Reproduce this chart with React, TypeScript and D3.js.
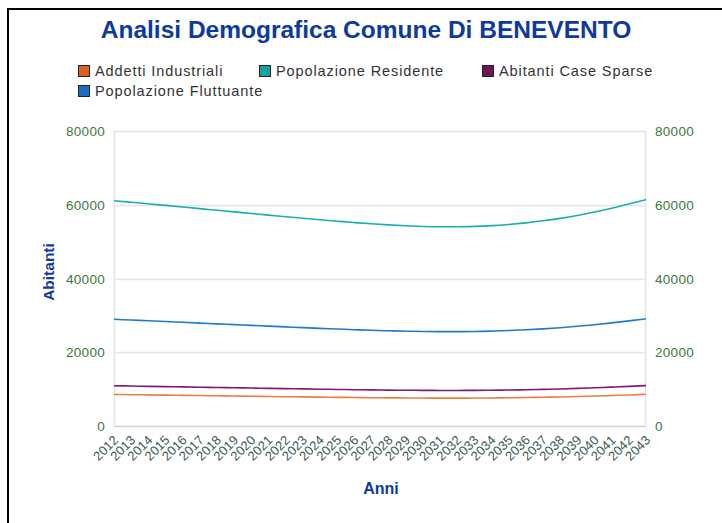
import React from "react";
import * as d3 from "d3";

const years: string[] = [
  "2012","2013","2014","2015","2016","2017","2018","2019","2020","2021","2022",
  "2023","2024","2025","2026","2027","2028","2029","2030","2031","2032","2033",
  "2034","2035","2036","2037","2038","2039","2040","2041","2042","2043",
];

const addettiIndustriali: number[] = [
  8554, 8495, 8435, 8375, 8315, 8253, 8191, 8130, 8068, 8007, 7946, 7888, 7830, 7776, 7724, 7676,
  7634, 7601, 7577, 7564, 7564, 7578, 7608, 7652, 7713, 7790, 7883, 7994, 8121, 8266, 8427, 8596,
];
const popolazioneResidente: number[] = [
  61100, 60680, 60250, 59820, 59390, 58950, 58510, 58070, 57630, 57190, 56760, 56340, 55930, 55540, 55170, 54830,
  54530, 54290, 54120, 54030, 54030, 54130, 54340, 54660, 55090, 55640, 56310, 57100, 58010, 59040, 60190, 61400,
];
const abitantiCaseSparse: number[] = [
  10906, 10831, 10755, 10678, 10601, 10523, 10444, 10366, 10287, 10208, 10132, 10057, 9984, 9914, 9848, 9787,
  9734, 9691, 9660, 9644, 9644, 9662, 9700, 9757, 9834, 9932, 10051, 10192, 10355, 10539, 10744, 10960,
];
const popolazioneFluttuante: number[] = [
  28930, 28730, 28530, 28325, 28120, 27910, 27705, 27500, 27290, 27080, 26875, 26680, 26480, 26300, 26120, 25960,
  25820, 25710, 25630, 25580, 25580, 25630, 25730, 25880, 26085, 26345, 26660, 27040, 27470, 27955, 28500, 29070,
];

const yTicks: number[] = [0, 20000, 40000, 60000, 80000];

const seriesNames: string[] = [
  "Addetti Industriali",
  "Popolazione Residente",
  "Abitanti Case Sparse",
  "Popolazione Fluttuante",
];
const seriesValues: number[][] = [addettiIndustriali, popolazioneResidente, abitantiCaseSparse, popolazioneFluttuante];
const lineColors: string[] = ["#e8803e", "#19aeb0", "#7d1e6c", "#1f7bc9"];
const swatchColors: string[] = ["#d9621e", "#12a39b", "#6e1456", "#1a6fc4"];

const title = "Analisi Demografica Comune Di BENEVENTO";

export default function App() {
  const W = 722, H = 523;
  const left = 114, right = 646, top = 131, bottom = 426;
  const x = d3.scalePoint<string>().domain(years).range([left, right]);
  const y = d3.scaleLinear().domain([0, 80000]).range([bottom, top]);
  const line = d3
    .line<number>()
    .x((_, i) => x(years[i]) as number)
    .y((v) => y(v))
    .curve(d3.curveMonotoneX);

  const font = "'Liberation Sans', Arial, sans-serif";
  const legendPos: { x: number; y: number }[] = [
    { x: 78, y: 65 },
    { x: 259, y: 65 },
    { x: 482, y: 65 },
    { x: 78, y: 85 },
  ];

  return (
    <svg
      width={W}
      height={H}
      style={{ position: "absolute", left: 0, top: 0, background: "#fff" }}
      fontFamily={font}
    >
      <rect x={0} y={0} width={W} height={H} fill="#fff" />
      {/* outer frame */}
      <line x1={8} y1={9} x2={W + 5} y2={9} stroke="#000" strokeWidth={2} />
      <line x1={8} y1={8} x2={8} y2={H + 5} stroke="#000" strokeWidth={2} />

      <text x={366} y={38} textAnchor="middle" fontSize={24.5} fontWeight="bold" fill="#0d3a9c">
        {title}
      </text>

      {seriesNames.map((n, i) => (
        <g key={n}>
          <rect
            x={legendPos[i].x + 0.5}
            y={legendPos[i].y + 0.5}
            width={11}
            height={11}
            fill={swatchColors[i]}
            stroke="#222"
            strokeWidth={1}
          />
          <text
            x={legendPos[i].x + 17}
            y={legendPos[i].y + 11}
            fontSize={14.5}
            letterSpacing={0.9}
            fill="#333"
          >
            {n}
          </text>
        </g>
      ))}

      {/* gridlines */}
      {yTicks.map((t) => (
        <line
          key={t}
          x1={left}
          x2={right}
          y1={Math.round(y(t)) + 0.5}
          y2={Math.round(y(t)) + 0.5}
          stroke={t === 0 ? "#cfd0dc" : "#e3e3ea"}
          strokeWidth={1.5}
        />
      ))}
      <line x1={left + 0.5} x2={left + 0.5} y1={top} y2={bottom} stroke="#e3e3ea" strokeWidth={1.5} />
      <line x1={right - 0.5} x2={right - 0.5} y1={top} y2={bottom} stroke="#e3e3ea" strokeWidth={1.5} />

      {/* y tick labels */}
      {yTicks.map((t) => (
        <g key={"l" + t}>
          <text x={105} y={y(t) + 5} textAnchor="end" fontSize={13.5} letterSpacing={0.3} fill="#3a7a3a">
            {t}
          </text>
          <text x={655} y={y(t) + 5} textAnchor="start" fontSize={13.5} letterSpacing={0.3} fill="#3a7a3a">
            {t}
          </text>
        </g>
      ))}

      {/* series */}
      {seriesValues.map((vals, i) => (
        <path key={i} d={line(vals) as string} fill="none" stroke={lineColors[i]} strokeWidth={1.6} />
      ))}

      {/* x tick labels */}
      {years.map((yr) => (
        <text
          key={yr}
          transform={`translate(${(x(yr) as number) + 5},${bottom + 15}) rotate(-45)`}
          textAnchor="end"
          fontSize={13}
          fill="#3c5c50"
        >
          {yr}
        </text>
      ))}

      <text
        transform={`translate(54,272) rotate(-90)`}
        textAnchor="middle"
        fontSize={15.5}
        fontWeight="bold"
        fill="#0d3a9c"
      >
        Abitanti
      </text>
      <text x={381} y={494} textAnchor="middle" fontSize={16} fontWeight="bold" fill="#0d3a9c">
        Anni
      </text>
    </svg>
  );
}
